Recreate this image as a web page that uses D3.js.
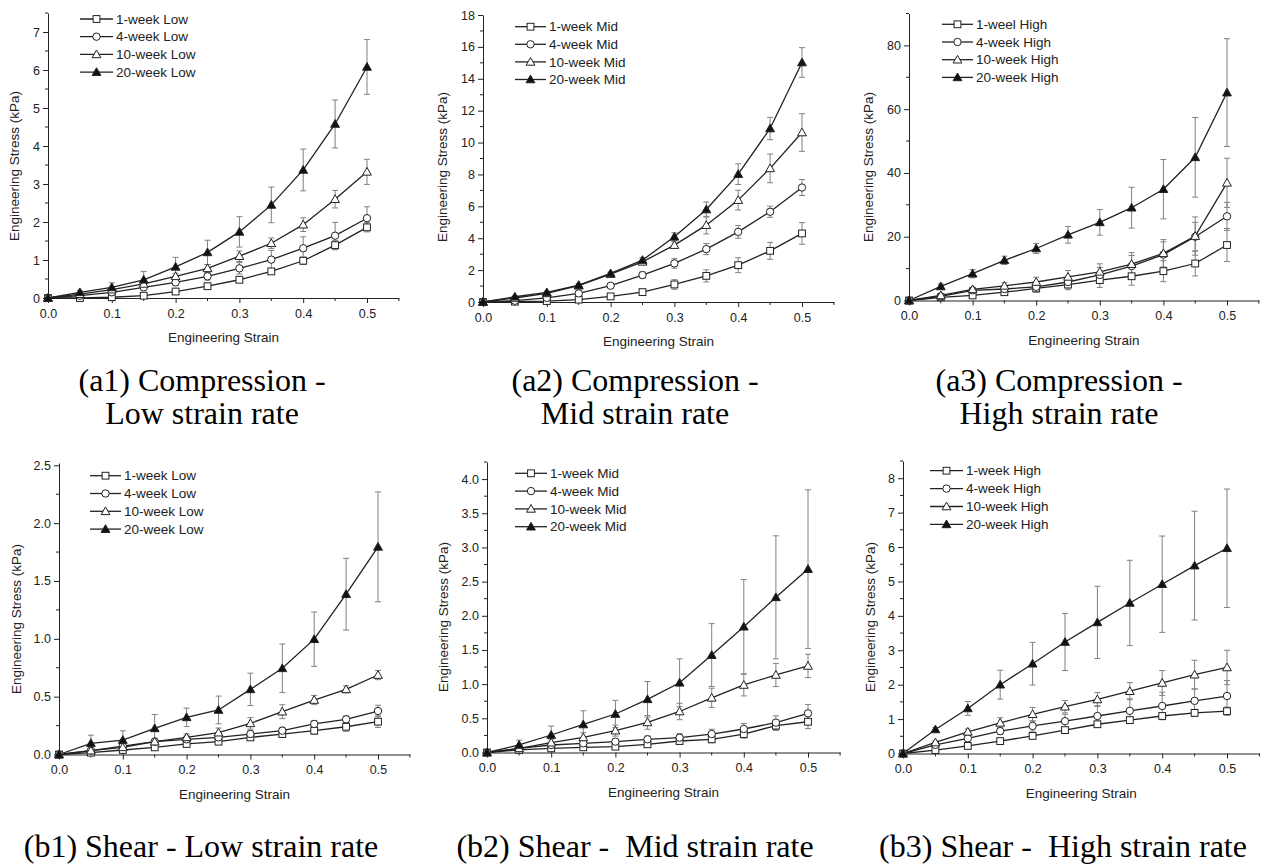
<!DOCTYPE html>
<html>
<head>
<meta charset="utf-8">
<script src="https://cdn.jsdelivr.net/npm/d3@7"></script>
<style>
  html, body { margin: 0; padding: 0; background: #fff; }
  svg { display: block; }
  .tick text { font-family: "Liberation Sans", Arial, sans-serif; font-size: 12.5px; fill: #222; }
  .axis path, .axis line { stroke: #222; }
  .ttl { font-family: "Liberation Sans", Arial, sans-serif; fill: #222; }
  .leg { font-family: "Liberation Sans", Arial, sans-serif; font-size: 13.5px; fill: #222; }
  .cap { font-family: "Liberation Serif", "Times New Roman", serif; font-size: 32px; fill: #000; }
</style>
</head>
<body>
<svg id="fig" width="1275" height="867"></svg>
<script>
// Strain levels shared by every test
const strain = [0, 0.05, 0.1, 0.15, 0.2, 0.25, 0.3, 0.35, 0.4, 0.45, 0.5];
const xTicks = [0, 0.1, 0.2, 0.3, 0.4, 0.5];

// Compression, low strain rate (kPa)
const compLow1 = [0, 0.0, 0.02, 0.06, 0.17, 0.31, 0.48, 0.70, 0.98, 1.39, 1.86];
const compLow1Err = [0, 0.01, 0.02, 0.03, 0.04, 0.05, 0.05, 0.06, 0.10, 0.12, 0.12];
const compLow4 = [0, 0.06, 0.15, 0.28, 0.41, 0.57, 0.78, 1.01, 1.31, 1.64, 2.10];
const compLow4Err = [0, 0.02, 0.04, 0.06, 0.08, 0.10, 0.15, 0.24, 0.30, 0.35, 0.30];
const compLow10 = [0, 0.10, 0.22, 0.37, 0.57, 0.78, 1.10, 1.44, 1.93, 2.60, 3.32];
const compLow10Err = [0, 0.03, 0.05, 0.06, 0.08, 0.10, 0.14, 0.14, 0.18, 0.23, 0.33];
const compLow20 = [0, 0.15, 0.28, 0.48, 0.82, 1.20, 1.74, 2.45, 3.37, 4.58, 6.08];
const compLow20Err = [0, 0.05, 0.12, 0.22, 0.25, 0.32, 0.40, 0.47, 0.55, 0.63, 0.72];

// Compression, mid strain rate (kPa)
const compMid1 = [0, 0.02, 0.06, 0.15, 0.35, 0.62, 1.10, 1.64, 2.31, 3.21, 4.30];
const compMid1Err = [0, 0.01, 0.02, 0.04, 0.06, 0.10, 0.30, 0.38, 0.47, 0.53, 0.68];
const compMid4 = [0, 0.08, 0.26, 0.54, 1.02, 1.69, 2.42, 3.32, 4.40, 5.66, 7.18];
const compMid4Err = [0, 0.03, 0.05, 0.08, 0.12, 0.20, 0.30, 0.35, 0.40, 0.35, 0.50];
const compMid10 = [0, 0.25, 0.54, 1.02, 1.75, 2.52, 3.57, 4.82, 6.39, 8.38, 10.63];
const compMid10Err = [0, 0.04, 0.06, 0.08, 0.10, 0.12, 0.20, 0.55, 0.62, 0.90, 1.18];
const compMid20 = [0, 0.33, 0.60, 1.06, 1.79, 2.63, 4.09, 5.80, 8.02, 10.88, 15.02];
const compMid20Err = [0, 0.05, 0.08, 0.10, 0.10, 0.15, 0.25, 0.47, 0.65, 0.70, 0.93];

// Compression, high strain rate (kPa)
const compHigh1 = [0, 1.0, 1.6, 2.6, 3.8, 5.0, 6.4, 7.6, 9.2, 11.6, 17.4];
const compHigh1Err = [0, 0.3, 0.5, 0.8, 1.2, 1.6, 2.3, 2.8, 3.3, 3.9, 5.2];
const compHigh4 = [0, 1.3, 3.2, 3.6, 4.3, 5.8, 8.0, 10.8, 14.4, 20.0, 26.4];
const compHigh4Err = [0, 0.4, 0.6, 0.8, 1.2, 1.8, 2.4, 3.3, 4.0, 4.5, 4.4];
const compHigh10 = [0, 1.6, 3.5, 4.6, 5.8, 7.4, 9.0, 11.4, 14.8, 20.2, 36.9];
const compHigh10Err = [0, 0.4, 0.6, 1.0, 1.5, 2.0, 2.5, 3.6, 4.3, 6.0, 7.7];
const compHigh20 = [0, 4.4, 8.4, 12.6, 16.3, 20.6, 24.5, 29.1, 34.9, 44.9, 65.2];
const compHigh20Err = [0, 0.8, 1.3, 1.3, 1.6, 2.6, 4.0, 6.4, 9.3, 12.5, 16.9];

// Shear, low strain rate (kPa)
const shearLow1 = [0, 0.016, 0.039, 0.062, 0.091, 0.111, 0.148, 0.177, 0.206, 0.240, 0.284];
const shearLow1Err = [0, 0.01, 0.01, 0.02, 0.02, 0.02, 0.02, 0.02, 0.03, 0.04, 0.05];
const shearLow4 = [0, 0.033, 0.073, 0.111, 0.131, 0.148, 0.177, 0.206, 0.264, 0.304, 0.376];
const shearLow4Err = [0, 0.01, 0.02, 0.02, 0.03, 0.03, 0.03, 0.03, 0.03, 0.03, 0.05];
const shearLow10 = [0, 0.033, 0.062, 0.111, 0.148, 0.189, 0.269, 0.370, 0.471, 0.563, 0.687];
const shearLow10Err = [0, 0.01, 0.02, 0.03, 0.03, 0.04, 0.05, 0.06, 0.04, 0.03, 0.04];
const shearLow20 = [0, 0.097, 0.125, 0.226, 0.321, 0.385, 0.563, 0.745, 0.997, 1.386, 1.795];
const shearLow20Err = [0, 0.07, 0.08, 0.12, 0.08, 0.12, 0.14, 0.21, 0.235, 0.31, 0.475];

// Shear, mid strain rate (kPa)
const shearMid1 = [0, 0.037, 0.061, 0.076, 0.085, 0.12, 0.168, 0.193, 0.27, 0.393, 0.45];
const shearMid1Err = [0, 0.01, 0.02, 0.03, 0.03, 0.04, 0.04, 0.05, 0.06, 0.07, 0.10];
const shearMid4 = [0, 0.06, 0.11, 0.134, 0.159, 0.193, 0.217, 0.27, 0.344, 0.437, 0.573];
const shearMid4Err = [0, 0.02, 0.03, 0.04, 0.04, 0.05, 0.06, 0.07, 0.08, 0.10, 0.13];
const shearMid10 = [0, 0.06, 0.144, 0.22, 0.32, 0.44, 0.60, 0.80, 0.988, 1.134, 1.266];
const shearMid10Err = [0, 0.03, 0.05, 0.07, 0.08, 0.10, 0.12, 0.14, 0.16, 0.17, 0.17];
const shearMid20 = [0, 0.11, 0.256, 0.41, 0.563, 0.778, 1.02, 1.425, 1.84, 2.27, 2.683];
const shearMid20Err = [0, 0.07, 0.13, 0.20, 0.20, 0.26, 0.35, 0.46, 0.69, 0.90, 1.16];

// Shear, high strain rate (kPa)
const shearHigh1 = [0, 0.10, 0.22, 0.36, 0.51, 0.68, 0.85, 0.97, 1.09, 1.18, 1.23];
const shearHigh1Err = [0, 0.02, 0.04, 0.05, 0.06, 0.07, 0.08, 0.08, 0.08, 0.10, 0.12];
const shearHigh4 = [0, 0.25, 0.44, 0.65, 0.80, 0.94, 1.09, 1.24, 1.38, 1.53, 1.67];
const shearHigh4Err = [0, 0.04, 0.06, 0.10, 0.15, 0.20, 0.30, 0.35, 0.40, 0.35, 0.45];
const shearHigh10 = [0, 0.32, 0.63, 0.89, 1.14, 1.36, 1.57, 1.81, 2.05, 2.29, 2.50];
const shearHigh10Err = [0, 0.05, 0.08, 0.15, 0.20, 0.18, 0.20, 0.25, 0.36, 0.42, 0.50];
const shearHigh20 = [0, 0.70, 1.31, 2.00, 2.61, 3.24, 3.81, 4.375, 4.92, 5.46, 5.965];
const shearHigh20Err = [0, 0.05, 0.20, 0.42, 0.62, 0.83, 1.05, 1.24, 1.40, 1.58, 1.72];

// Legend labels
const legLow = ["1-week Low", "4-week Low", "10-week Low", "20-week Low"];
const legMid = ["1-week Mid", "4-week Mid", "10-week Mid", "20-week Mid"];
const legHighA = ["1-weel High", "4-week High", "10-week High", "20-week High"];
const legHighB = ["1-week High", "4-week High", "10-week High", "20-week High"];

// Y tick values
const yTicksA1 = [0, 1, 2, 3, 4, 5, 6, 7];
const yTicksA2 = [0, 2, 4, 6, 8, 10, 12, 14, 16, 18];
const yTicksA3 = [0, 20, 40, 60, 80];
const yTicksB1 = [0, 0.5, 1.0, 1.5, 2.0, 2.5];
const yTicksB2 = [0, 0.5, 1.0, 1.5, 2.0, 2.5, 3.0, 3.5, 4.0];
const yTicksB3 = [0, 1, 2, 3, 4, 5, 6, 7, 8];

// Captions
const capA1 = ["(a1) Compression -", "Low strain rate"];
const capA2 = ["(a2) Compression -", "Mid strain rate"];
const capA3 = ["(a3) Compression -", "High strain rate"];
const capB1 = ["(b1) Shear - Low strain rate"];
const capB2 = ["(b2) Shear -  Mid strain rate"];
const capB3 = ["(b3) Shear -  High strain rate"];

const markers = ["square", "circle", "triangle", "triangleFilled"];

// Panel layout: pixel frame of each plot
const panels = [
  { x0: 48, x5: 367, yb: 298, yt: 13, ymax: 7.5, yticks: yTicksA1, yminor: 0.5, yfmt: d3.format("d"),
    series: [[compLow1, compLow1Err], [compLow4, compLow4Err], [compLow10, compLow10Err], [compLow20, compLow20Err]],
    legend: legLow, lx: 80, lw: 33, ly: 19, lstep: 17.7, tx: 14, ty: 166,
    cap: capA1, cx: 202, cy: 380 },
  { x0: 483, x5: 802, yb: 302, yt: 15, ymax: 18, yticks: yTicksA2, yminor: 1, yfmt: d3.format("d"),
    series: [[compMid1, compMid1Err], [compMid4, compMid4Err], [compMid10, compMid10Err], [compMid20, compMid20Err]],
    legend: legMid, lx: 515, lw: 31, ly: 26.7, lstep: 17.6, tx: 442, ty: 167,
    cap: capA2, cx: 635, cy: 380 },
  { x0: 909, x5: 1227, yb: 300.5, yt: 13.5, ymax: 90, yticks: yTicksA3, yminor: 10, yfmt: d3.format("d"),
    series: [[compHigh1, compHigh1Err], [compHigh4, compHigh4Err], [compHigh10, compHigh10Err], [compHigh20, compHigh20Err]],
    legend: legHighA, lx: 942, lw: 31, ly: 24.3, lstep: 17.7, tx: 868, ty: 167,
    cap: capA3, cx: 1059, cy: 380 },
  { x0: 59, x5: 378, yb: 754.5, yt: 463, ymax: 2.52, yticks: yTicksB1, yminor: 0.25, yfmt: d3.format(".1f"),
    series: [[shearLow1, shearLow1Err], [shearLow4, shearLow4Err], [shearLow10, shearLow10Err], [shearLow20, shearLow20Err]],
    legend: legLow, lx: 90, lw: 31, ly: 475.7, lstep: 17.8, tx: 16, ty: 619,
    cap: capB1, cx: 201, cy: 846 },
  { x0: 487, x5: 808, yb: 752.5, yt: 462, ymax: 4.25, yticks: yTicksB2, yminor: 0.25, yfmt: d3.format(".1f"),
    series: [[shearMid1, shearMid1Err], [shearMid4, shearMid4Err], [shearMid10, shearMid10Err], [shearMid20, shearMid20Err]],
    legend: legMid, lx: 515, lw: 32, ly: 473.3, lstep: 17.8, tx: 443, ty: 617,
    cap: capB2, cx: 635, cy: 846 },
  { x0: 903, x5: 1227, yb: 753.5, yt: 461, ymax: 8.5, yticks: yTicksB3, yminor: 0.5, yfmt: d3.format("d"),
    series: [[shearHigh1, shearHigh1Err], [shearHigh4, shearHigh4Err], [shearHigh10, shearHigh10Err], [shearHigh20, shearHigh20Err]],
    legend: legHighB, lx: 930, lw: 33, ly: 470.7, lstep: 17.9, tx: 870, ty: 617,
    cap: capB3, cx: 1063, cy: 846 }
];

const svg = d3.select("#fig");

function drawMarker(g, type, cx, cy) {
  const stroke = "#222";
  if (type === "square") {
    g.append("rect").attr("x", cx - 3.4).attr("y", cy - 3.4).attr("width", 6.8).attr("height", 6.8)
      .attr("fill", "#fff").attr("stroke", stroke).attr("stroke-width", 1);
  } else if (type === "circle") {
    g.append("circle").attr("cx", cx).attr("cy", cy).attr("r", 3.7)
      .attr("fill", "#fff").attr("stroke", stroke).attr("stroke-width", 1);
  } else {
    const s = 4.4;
    g.append("path")
      .attr("d", `M${cx},${cy - s}L${cx + s},${cy + s * 0.75}L${cx - s},${cy + s * 0.75}Z`)
      .attr("fill", type === "triangleFilled" ? "#111" : "#fff")
      .attr("stroke", stroke).attr("stroke-width", 1);
  }
}

panels.forEach(p => {
  const x = d3.scaleLinear().domain([0, 0.55]).range([p.x0, p.x0 + (p.x5 - p.x0) * 1.1]);
  const y = d3.scaleLinear().domain([0, p.ymax]).range([p.yb, p.yt]);
  const g = svg.append("g");

  // minor ticks
  const xMinor = d3.range(0.05, 0.551, 0.1);
  g.append("g").selectAll("line").data(xMinor).join("line")
    .attr("x1", d => x(d)).attr("x2", d => x(d)).attr("y1", p.yb).attr("y2", p.yb + 3)
    .attr("stroke", "#222");
  const yMinor = d3.range(p.yminor, p.ymax + 1e-9, p.yminor * 2);
  g.append("g").selectAll("line").data(yMinor).join("line")
    .attr("x1", p.x0 - 3).attr("x2", p.x0).attr("y1", d => y(d)).attr("y2", d => y(d))
    .attr("stroke", "#222");

  // axes
  g.append("g").attr("class", "axis").attr("transform", `translate(0,${p.yb})`)
    .call(d3.axisBottom(x).tickValues(xTicks).tickFormat(d3.format(".1f")).tickSize(5).tickSizeOuter(0))
    .call(a => a.selectAll("text").attr("dy", "0.95em"));
  g.append("g").attr("class", "axis").attr("transform", `translate(${p.x0},0)`)
    .call(d3.axisLeft(y).tickValues(p.yticks).tickFormat(p.yfmt).tickSize(5).tickSizeOuter(0));

  // axis titles
  g.append("text").attr("class", "ttl").attr("text-anchor", "middle")
    .attr("font-size", 13.5).attr("dy", "0.35em")
    .attr("transform", `translate(${p.tx},${p.ty}) rotate(-90)`)
    .text("Engineering Stress (kPa)");
  g.append("text").attr("class", "ttl").attr("text-anchor", "middle")
    .attr("font-size", 13.5)
    .attr("x", (x(0) + x(0.55)) / 2).attr("y", p.yb + 44)
    .text("Engineering Strain");

  // error bars
  p.series.forEach(([vals, errs]) => {
    const eg = g.append("g").attr("stroke", "#808080").attr("stroke-width", 1);
    strain.forEach((s, i) => {
      if (errs[i] <= 0) return;
      const cx = x(s), top = y(vals[i] + errs[i]), bot = y(Math.max(0, vals[i] - errs[i]));
      eg.append("line").attr("x1", cx).attr("x2", cx).attr("y1", top).attr("y2", bot);
      eg.append("line").attr("x1", cx - 3).attr("x2", cx + 3).attr("y1", top).attr("y2", top);
      eg.append("line").attr("x1", cx - 3).attr("x2", cx + 3).attr("y1", bot).attr("y2", bot);
    });
  });

  // lines
  const line = d3.line().x((d, i) => x(strain[i])).y(d => y(d));
  p.series.forEach(([vals]) => {
    g.append("path").attr("d", line(vals)).attr("fill", "none")
      .attr("stroke", "#222").attr("stroke-width", 1.3);
  });

  // markers
  p.series.forEach(([vals], k) => {
    const mg = g.append("g");
    vals.forEach((v, i) => drawMarker(mg, markers[k], x(strain[i]), y(v)));
  });

  // legend
  p.legend.forEach((lab, k) => {
    const ly = p.ly + k * p.lstep;
    g.append("line").attr("x1", p.lx).attr("x2", p.lx + p.lw).attr("y1", ly).attr("y2", ly)
      .attr("stroke", "#222").attr("stroke-width", 1.3);
    drawMarker(g, markers[k], p.lx + p.lw / 2, ly);
    g.append("text").attr("class", "leg").attr("x", p.lx + p.lw + 3).attr("y", ly)
      .attr("dy", "0.35em").text(lab);
  });

  // caption
  p.cap.forEach((t, k) => {
    svg.append("text").attr("class", "cap").attr("text-anchor", "middle")
      .attr("x", p.cx).attr("y", p.cy + k * 33).attr("dy", "0.35em")
      .style("white-space", "pre").text(t);
  });
});
</script>
</body>
</html>
